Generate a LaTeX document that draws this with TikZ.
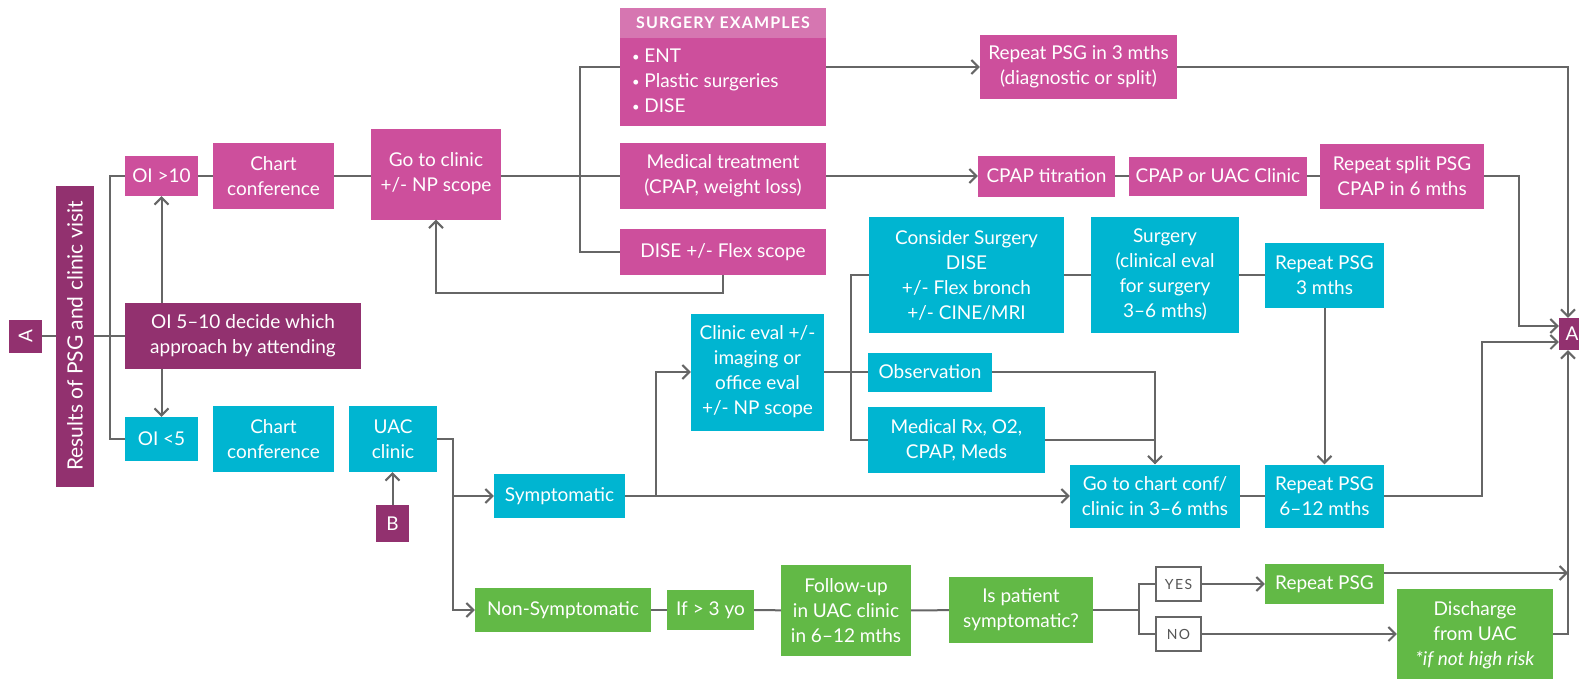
\documentclass[tikz,border=0pt]{standalone}
\usepackage{fontspec}
\setmainfont{Lato}
\newfontfamily\spacedfont[LetterSpace=10]{Lato}
\newfontfamily\headfont[LetterSpace=7]{Lato}
\usetikzlibrary{arrows.meta,calc}

\definecolor{uacpink}{HTML}{CD4F9C}
\definecolor{uachead}{HTML}{D676B1}
\definecolor{uacplum}{HTML}{92316F}
\definecolor{uacblue}{HTML}{00B5D1}
\definecolor{uacgreen}{HTML}{62B946}
\definecolor{linegray}{HTML}{666666}
\definecolor{answergray}{HTML}{555555}

\newcommand{\smallbullet}{{\fontsize{13}{13}\selectfont\raisebox{1.5pt}{\textbullet}}}

\tikzstyle{box} = [inner sep=2pt, align=center, text=white,
    font=\fontsize{19}{25}\selectfont]
\tikzstyle{pinkbox} = [box, fill=uacpink]
\tikzstyle{plumbox} = [box, fill=uacplum]
\tikzstyle{bluebox} = [box, fill=uacblue]
\tikzstyle{greenbox} = [box, fill=uacgreen]
\tikzstyle{answer} = [draw=linegray, line width=2pt, fill=white, text=answergray,
    minimum width=45, minimum height=34, font=\spacedfont\fontsize{14}{16}\selectfont]
\tikzstyle{link} = [draw=linegray, line width=2pt]

\begin{document}
\begin{tikzpicture}[x=1pt, y=-1pt, >={Straight Barb[length=7pt,width=14pt]}]
  \useasboundingbox (0,0) rectangle (1579,678);

  % left part
  \node (aleft) [plumbox, minimum width=33, minimum height=33] at (25.5,336) {\rotatebox{90}{A}};
  \node (results) [plumbox, minimum width=38, minimum height=301, font=\fontsize{21}{25}\selectfont]
    at (75,336) {\rotatebox{90}{Results of PSG and clinic visit}};
  \node (oihi) [pinkbox, minimum width=73, minimum height=40] at (161.5,176) {OI >10};
  \node (chartp) [pinkbox, minimum width=121, minimum height=66] at (273.5,176) {Chart\\conference};
  \node (goclinic) [pinkbox, minimum width=130, minimum height=91] at (436,174) {Go to clinic\\+/- NP scope};
  \node (oimid) [plumbox, minimum width=236, minimum height=66] at (243,336) {OI 5--10 decide which\\approach by attending};
  \node (oilo) [bluebox, minimum width=73, minimum height=44] at (161.5,439) {OI <5};
  \node (chartb) [bluebox, minimum width=121, minimum height=66] at (273.5,439) {Chart\\conference};
  \node (uac) [bluebox, minimum width=88, minimum height=66] at (393,439) {UAC\\clinic};
  \node (b) [plumbox, minimum width=33, minimum height=37] at (392.5,523.5) {B};

  % pink branch
  \node (surgex) [pinkbox, minimum width=206, minimum height=118] at (723,67) {};
  \node (surgexhead) [box, fill=uachead, minimum width=206, minimum height=30, anchor=north,
    font=\headfont\bfseries\fontsize{16}{18}\selectfont] at (surgex.north) {SURGERY EXAMPLES};
  \node (surgexlist) [box, align=left, anchor=north west] at ($(surgex.north west)+(10,39)$)
    {\smallbullet\ ENT\\\smallbullet\ Plastic surgeries\\\smallbullet\ DISE};
  \node (medtreat) [pinkbox, minimum width=206, minimum height=66] at (723,176) {Medical treatment\\(CPAP, weight loss)};
  \node (dise) [pinkbox, minimum width=206, minimum height=46] at (723,252) {DISE +/- Flex scope};
  \node (rp3) [pinkbox, minimum width=197, minimum height=64] at (1078.5,67) {Repeat PSG in 3 mths\\(diagnostic or split)};
  \node (cpapt) [pinkbox, minimum width=137, minimum height=41] at (1046.5,176) {CPAP titration};
  \node (cpapuac) [pinkbox, minimum width=178, minimum height=39] at (1218,176) {CPAP or UAC Clinic};
  \node (rpsplit) [pinkbox, minimum width=164, minimum height=65] at (1402,176) {Repeat split PSG\\CPAP in 6 mths};

  % blue branch
  \node (sympt) [bluebox, minimum width=131, minimum height=44] at (559.5,496) {Symptomatic};
  \node (clineval) [bluebox, minimum width=133, minimum height=117] at (757.5,372) {Clinic eval +/-\\imaging or\\office eval\\+/- NP scope};
  \node (considsurg) [bluebox, minimum width=195, minimum height=116] at (966.5,275) {Consider Surgery\\DISE\\+/- Flex bronch\\+/- CINE/MRI};
  \node (surg) [bluebox, minimum width=148, minimum height=116] at (1165,275) {Surgery\\(clinical eval\\for surgery\\3--6 mths)};
  \node (rp3b) [bluebox, minimum width=119, minimum height=65] at (1324.5,275) {Repeat PSG\\3 mths};
  \node (observ) [bluebox, minimum width=124, minimum height=39] at (930,372) {Observation};
  \node (medrx) [bluebox, minimum width=177, minimum height=66] at (956.5,440) {Medical Rx, O2,\\CPAP, Meds};
  \node (gochart) [bluebox, minimum width=170, minimum height=63] at (1155,496) {Go to chart conf/\\clinic in 3--6 mths};
  \node (rp612) [bluebox, minimum width=119, minimum height=63] at (1324.5,496) {Repeat PSG\\6--12 mths};

  % green branch
  \node (nonsympt) [greenbox, minimum width=176, minimum height=44] at (563,610) {Non-Symptomatic};
  \node (ifold) [greenbox, minimum width=87, minimum height=40] at (710.5,610) {If > 3 yo};
  \node (followup) [greenbox, minimum width=130, minimum height=91] at (846,610.5) {Follow-up\\in UAC clinic\\in 6--12 mths};
  \node (ispat) [greenbox, minimum width=144, minimum height=66] at (1021,610) {Is patient\\symptomatic?};
  \node (yes) [answer] at (1178.5,584) {YES};
  \node (no) [answer] at (1178.5,634) {NO};
  \node (rpgreen) [greenbox, minimum width=119, minimum height=40] at (1324.5,584) {Repeat PSG};
  \node (discharge) [greenbox, minimum width=156, minimum height=92] at (1475,635) {Discharge\\from UAC\\\textit{*if not high risk}};
  \node (aright) [plumbox, minimum width=26, minimum height=32] at (1572,334) {A};

  \coordinate (leftsplit) at (110,336);
  \coordinate (surgsplit) at (580,176);
  \coordinate (uacbus) at ([xshift=16]uac.east);
  \coordinate (symptbus) at ([xshift=31]sympt.east);
  \coordinate (evalbus) at ([xshift=27]clineval.east);
  \coordinate (askbus) at ([xshift=46]ispat.east);
  \coordinate (atop) at ([xshift=-4]aright.north);
  \coordinate (abottom) at ([xshift=-4]aright.south);
  \coordinate (ainhi) at ([yshift=8]aright.west);
  \coordinate (ainlo) at ([yshift=-8]aright.west);
  \coordinate (greenout) at ([yshift=11]rpgreen.east);
  \coordinate (greenin) at (greenout -| atop);
  \coordinate (dischout) at ([yshift=1]discharge.east);

  \draw [link] (aleft) -- (results);
  \draw [link] (results) -- (oimid);
  \draw [link] (oihi.west) -| (leftsplit) |- (oilo.west);
  \draw [link, ->] (oimid.north -| oihi.south) -- (oihi.south);
  \draw [link, ->] (oimid.south -| oilo.north) -- (oilo.north);
  \draw [link] (oihi) -- (chartp);
  \draw [link] (chartp) -- (goclinic.west |- chartp);
  \draw [link] (goclinic.east |- medtreat) -- (medtreat);
  \draw [link] (surgex.west) -| (surgsplit) |- (dise.west);
  \draw [link, ->] (dise.south) -- ++(0,18) -| (goclinic.south);
  \draw [link, ->] (surgex) -- (rp3);
  \draw [link, ->] (medtreat) -- (cpapt);
  \draw [link] (cpapt) -- (cpapuac);
  \draw [link] (cpapuac) -- (rpsplit);
  \draw [link, ->] (rp3.east) -| (atop);
  \draw [link, ->] (rpsplit.east) -- ++(35,0) |- (ainhi);

  \draw [link, ->] (b.north) -- (b.north |- uac.south);
  \draw [link, ->] (uac.east) -- (uacbus) |- (nonsympt.west);
  \draw [link, ->] (uacbus |- sympt.west) -- (sympt.west);
  \draw [link, ->] (sympt) -- (gochart);
  \draw [link, ->] (symptbus) |- (clineval.west);
  \draw [link] (clineval.east) -- (evalbus);
  \draw [link] (considsurg.west) -| (evalbus) |- (medrx.west);
  \draw [link] (evalbus) -- (observ.west);
  \draw [link] (considsurg) -- (surg);
  \draw [link] (surg) -- (rp3b);
  \draw [link, ->] (rp3b) -- (rp612);
  \draw [link, ->] (observ.east) -| (gochart.north);
  \draw [link] (medrx.east) -| (gochart.north);
  \draw [link] (gochart) -- (rp612);
  \draw [link, ->] (rp612.east) -- ++(98,0) |- (ainlo);

  \draw [link] (nonsympt) -- (ifold);
  \draw [link] (ifold) -- (followup);
  \draw [link] (followup) -- (ispat);
  \draw [link] (ispat.east) -- (askbus);
  \draw [link] (yes.west) -| (askbus) |- (no.west);
  \draw [link, ->] (yes) -- (rpgreen);
  \draw [link, ->] (no) -- (no -| discharge.west);
  \draw [link, ->] (greenout) -- (greenin);
  \draw [link, ->] (dischout) -| (abottom);
\end{tikzpicture}
\end{document}
